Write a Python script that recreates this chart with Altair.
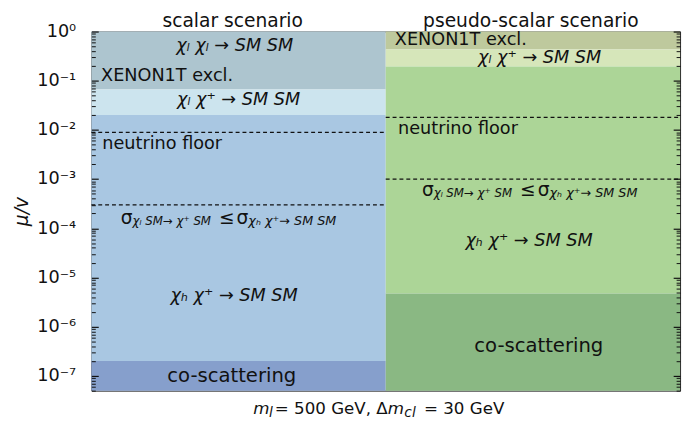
import altair as alt
import pandas as pd

# ---------------- data ----------------
panel_titles = ["scalar scenario", "pseudo-scalar scenario"]
panel_x0 = [0.0, 1.0]
panel_x1 = [1.0, 2.0]
title_x = [0.48, 1.493]

scalar_lo = [0.066, 0.02, 2e-7, 5e-8]
scalar_hi = [1.0, 0.066, 0.02, 2e-7]
scalar_colors = ["#adc5cf", "#cce4ee", "#a9c7e2", "#869fcc"]

pseudo_lo = [0.43, 0.195, 4.7e-6, 5e-8]
pseudo_hi = [1.0, 0.43, 0.195, 4.7e-6]
pseudo_colors = ["#bec99d", "#d6e6ba", "#acd597", "#8ab883"]

scalar_dash = [0.0089, 3e-4]
pseudo_dash = [0.018, 1e-3]

# plain left-aligned labels
left_text = ["XENON1T excl.", "neutrino floor", "XENON1T excl.", "neutrino floor"]
left_x = [0.033, 0.037, 1.031, 1.042]
left_y = [0.122, 0.00516, 0.66, 0.0102]
left_size = [18, 18, 18, 18]

# plain centered labels
center_text = ["co-scattering", "co-scattering"]
center_x = [0.477, 1.52]
center_y = [1.0e-7, 3.96e-7]
center_size = [20, 20]

# italic process labels
proc_text = ["χₗ χₗ → SM SM", "χₗ χ⁺ → SM SM", "χₕ χ⁺ → SM SM",
             "χₗ χ⁺ → SM SM", "χₕ χ⁺ → SM SM"]
proc_x = [0.487, 0.50, 0.485, 1.523, 1.487]
proc_y = [0.51, 0.041, 4.1e-6, 0.295, 5.6e-5]
proc_size = [18, 18, 18, 18, 18]

# cross-section comparison label, built from pieces
sigma_x = [0.1, 1.123]
sigma_y = [1.63e-4, 5.9e-4]
sigma_pieces = ["σ", "χₗ SM→ χ⁺ SM", "≤", "σ", "χₕ χ⁺→ SM SM"]
sigma_dx = [0, 12, 100, 118, 130]
sigma_dy = [0, 3, 0, 0, 3]
sigma_size = [19, 12, 19, 19, 13]

# x label pieces
xlab_pieces = ["m", "l", "= 500 GeV, Δ", "m", "cl", "= 30 GeV"]
xlab_italic = [True, True, False, True, True, False]
xlab_size = [17, 14, 17, 17, 14, 17]
xlab_dx = [-135, -119, -113, 2, 19, 39]
xlab_dy = [24, 27, 24, 24, 27, 24]

major_ticks = [1e-7, 1e-6, 1e-5, 1e-4, 1e-3, 1e-2, 1e-1, 1.0]
tick_labels = ["10⁻⁷", "10⁻⁶", "10⁻⁵", "10⁻⁴", "10⁻³", "10⁻²", "10⁻¹", "10⁰"]
minor_ticks = [k * 10.0 ** e for e in range(-8, 0) for k in range(2, 10)
               if 5e-8 <= k * 10.0 ** e <= 1.0]
x_ticks = [0, 0.4, 0.8, 1.2, 1.6, 2.0]

Y_DOMAIN = [5e-8, 1.0]

# ---------------- tables ----------------
bands = pd.DataFrame({
    "x0": [panel_x0[0]] * 4 + [panel_x0[1]] * 4,
    "x1": [panel_x1[0]] * 4 + [panel_x1[1]] * 4,
    "lo": scalar_lo + pseudo_lo,
    "hi": scalar_hi + pseudo_hi,
    "color": scalar_colors + pseudo_colors,
})
dashes = pd.DataFrame({
    "x0": [panel_x0[0]] * 2 + [panel_x0[1]] * 2,
    "x1": [panel_x1[0]] * 2 + [panel_x1[1]] * 2,
    "y": scalar_dash + pseudo_dash,
})

yscale = alt.Scale(type="log", domain=Y_DOMAIN, nice=False)
xscale = alt.Scale(domain=[0, 2], nice=False, zero=False)

label_expr = "[" + ",".join("'%s'" % t for t in tick_labels) + "][round(log(datum.value)/LN10)+7]"

ax_left_major = alt.Axis(orient="left", values=major_ticks, labelExpr=label_expr,
                         tickSize=7, offset=-7, domain=False, grid=False,
                         labelFontSize=18, labelPadding=16, labelColor="#111",
                         tickColor="#111", tickWidth=1.2, zindex=2,
                         title="μ/v", titleFontSize=19, titleFontStyle="italic",
                         titleFontWeight="normal", titleColor="#111", titlePadding=6)
ax_left_minor = alt.Axis(orient="left", values=minor_ticks, labels=False,
                         tickSize=4, offset=-4, domain=False, grid=False,
                         tickColor="#111", tickWidth=1, zindex=2, title=None)
ax_right_major = alt.Axis(orient="right", values=major_ticks, labels=False,
                          tickSize=7, offset=-7, domain=False, grid=False,
                          tickColor="#111", tickWidth=1.2, zindex=2, title=None)
ax_right_minor = alt.Axis(orient="right", values=minor_ticks, labels=False,
                          tickSize=4, offset=-4, domain=False, grid=False,
                          tickColor="#111", tickWidth=1, zindex=2, title=None)

band_layer = alt.Chart(bands).mark_rect(stroke=None).encode(
    x=alt.X("x0:Q", scale=xscale,
            axis=alt.Axis(values=x_ticks, labels=False, tickSize=2, tickColor="#cccccc",
                          domain=False, grid=False, title=None)),
    x2="x1:Q",
    y=alt.Y("lo:Q", scale=yscale, axis=ax_left_major),
    y2="hi:Q",
    color=alt.Color("color:N", scale=None),
)

dash_layer = alt.Chart(dashes).mark_rule(color="#111", strokeDash=[4, 3], strokeWidth=1.2).encode(
    x=alt.X("x0:Q", scale=xscale, axis=None),
    x2="x1:Q",
    y=alt.Y("y:Q", scale=yscale, axis=ax_left_minor),
)

left_df = pd.DataFrame({"x": left_x, "y": left_y, "t": left_text, "s": left_size})
left_layer = alt.Chart(left_df).mark_text(align="left", baseline="middle", color="#111").encode(
    x=alt.X("x:Q", scale=xscale, axis=None),
    y=alt.Y("y:Q", scale=yscale, axis=ax_right_major),
    text="t:N",
    size=alt.Size("s:Q", scale=None),
)

center_df = pd.DataFrame({"x": center_x, "y": center_y, "t": center_text, "s": center_size})
center_layer = alt.Chart(center_df).mark_text(align="center", baseline="middle", color="#111").encode(
    x=alt.X("x:Q", scale=xscale, axis=None),
    y=alt.Y("y:Q", scale=yscale, axis=ax_right_minor),
    text="t:N",
    size=alt.Size("s:Q", scale=None),
)

proc_df = pd.DataFrame({"x": proc_x, "y": proc_y, "t": proc_text, "s": proc_size})
proc_layer = alt.Chart(proc_df).mark_text(align="center", baseline="middle", color="#111",
                                          fontStyle="italic").encode(
    x=alt.X("x:Q", scale=xscale, axis=None),
    y=alt.Y("y:Q", scale=yscale, axis=None),
    text="t:N",
    size=alt.Size("s:Q", scale=None),
)

sigma_layers = []
for piece, dx, dy, fs in zip(sigma_pieces, sigma_dx, sigma_dy, sigma_size):
    df = pd.DataFrame({"x": sigma_x, "y": sigma_y, "t": [piece] * len(sigma_x)})
    sigma_layers.append(
        alt.Chart(df).mark_text(align="left", baseline="middle", dx=dx, dy=dy,
                                fontSize=fs, color="#111",
                                fontStyle="italic" if piece not in ("σ", "≤") else "normal").encode(
            x=alt.X("x:Q", scale=xscale, axis=None),
            y=alt.Y("y:Q", scale=yscale, axis=None),
            text="t:N",
        )
    )

title_df = pd.DataFrame({"x": title_x, "y": [Y_DOMAIN[1]] * 2, "t": panel_titles})
title_layer = alt.Chart(title_df).mark_text(align="center", baseline="alphabetic", dy=-5,
                                            fontSize=19, color="#111").encode(
    x=alt.X("x:Q", scale=xscale, axis=None),
    y=alt.Y("y:Q", scale=yscale, axis=None),
    text="t:N",
)

xlab_layers = []
for piece, it, fs, dx, dy in zip(xlab_pieces, xlab_italic, xlab_size, xlab_dx, xlab_dy):
    df = pd.DataFrame({"x": [1.0], "y": [Y_DOMAIN[0]], "t": [piece]})
    xlab_layers.append(
        alt.Chart(df).mark_text(align="left", baseline="alphabetic", dx=dx, dy=dy,
                                fontSize=fs, color="#111",
                                fontStyle="italic" if it else "normal").encode(
            x=alt.X("x:Q", scale=xscale, axis=None),
            y=alt.Y("y:Q", scale=yscale, axis=None),
            text="t:N",
        )
    )

chart = alt.layer(
    band_layer, dash_layer, left_layer, center_layer, proc_layer,
    *sigma_layers, title_layer, *xlab_layers
).resolve_axis(y="independent").properties(
    width=600, height=366,
    padding={"left": 4, "top": 0, "right": 2, "bottom": 0},
).configure(font="DejaVu Sans").configure_view(stroke="#222", strokeWidth=1)

chart.save("out.html", embed_options={"renderer": "svg", "actions": False})
